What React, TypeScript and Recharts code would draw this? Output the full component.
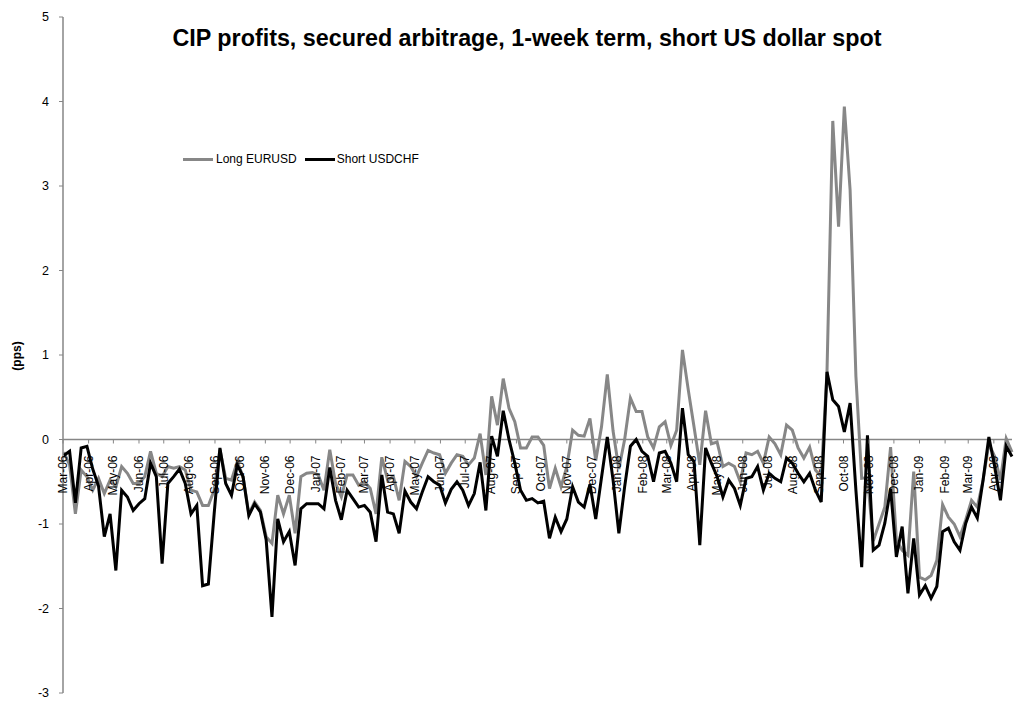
import React from "react";
import { LineChart, Line, XAxis, YAxis, ReferenceLine, Legend } from "recharts";

// weekly observations, first one in early March 2006
const longEURUSD = [
  -0.15, -0.3, -0.88, -0.36, -0.44, -0.6, -0.46, -0.64, -0.48, -0.56,
  -0.32, -0.4, -0.52, -0.52, -0.44, -0.14, -0.4, -0.44, -0.32, -0.34,
  -0.32, -0.36, -0.6, -0.62, -0.78, -0.78, -0.6, -0.12, -0.46, -0.48,
  -0.26, -0.44, -0.88, -0.74, -0.84, -1.15, -1.23, -0.66, -0.88, -0.66,
  -1.11, -0.44, -0.4, -0.39, -0.42, -0.6, -0.12, -0.52, -0.68, -0.42,
  -0.42, -0.54, -0.5, -0.58, -0.88, -0.21, -0.48, -0.44, -0.72, -0.26,
  -0.32, -0.44, -0.28, -0.13, -0.16, -0.18, -0.4, -0.28, -0.18, -0.2,
  -0.3, -0.22, 0.07, -0.42, 0.51, 0.17, 0.72, 0.37, 0.21, -0.1,
  -0.1, 0.03, 0.03, -0.07, -0.58, -0.34, -0.56, -0.32, 0.11, 0.05,
  0.04, 0.25, -0.25, 0.15, 0.77, 0.1, -0.35, 0.0, 0.49, 0.33,
  0.33, 0.03, -0.1, 0.15, 0.21, -0.07, 0.11, 1.06, 0.59, 0.15,
  -0.3, 0.34, -0.05, -0.03, -0.32, -0.28, -0.32, -0.5, -0.16, -0.18,
  -0.14, -0.28, 0.03, -0.05, -0.18, 0.17, 0.11, -0.1, -0.22, -0.09,
  -0.36, -0.44, 0.8, 3.77, 2.52, 3.94, 2.95, 0.75, -0.46, -0.45,
  -1.2, -1.0, -0.8, -0.09, -1.19, -1.31, -1.37, -0.38, -1.63, -1.66,
  -1.61, -1.43, -0.77, -0.92, -1.0, -1.15, -0.95, -0.72, -0.8, -0.48,
  -0.05, -0.2, -0.48, 0.01, -0.15,
];

const shortUSDCHF = [
  -0.19, -0.14, -0.75, -0.1, -0.08, -0.35, -0.55, -1.15, -0.88, -1.55,
  -0.6, -0.68, -0.84, -0.76, -0.7, -0.28, -0.44, -1.47, -0.52, -0.44,
  -0.35, -0.52, -0.88, -0.78, -1.73, -1.71, -0.88, -0.1, -0.52, -0.66,
  -0.3, -0.44, -0.9, -0.76, -0.86, -1.19, -2.1, -0.94, -1.21, -1.09,
  -1.49, -0.82, -0.76, -0.76, -0.76, -0.82, -0.33, -0.72, -0.95, -0.6,
  -0.7, -0.8, -0.78, -0.86, -1.21, -0.42, -0.86, -0.88, -1.11, -0.61,
  -0.74, -0.82, -0.62, -0.44, -0.5, -0.54, -0.75, -0.59, -0.5, -0.6,
  -0.78, -0.64, -0.27, -0.84, 0.04, -0.2, 0.34, 0.0, -0.28, -0.6,
  -0.72, -0.7, -0.75, -0.73, -1.17, -0.92, -1.09, -0.94, -0.56, -0.74,
  -0.8, -0.53, -0.94, -0.45, 0.03, -0.48, -1.11, -0.56, -0.08, 0.0,
  -0.14, -0.2, -0.5, -0.16, -0.14, -0.28, -0.5, 0.37, -0.18, -0.26,
  -1.25, -0.1, -0.28, -0.44, -0.68, -0.48, -0.58, -0.78, -0.46, -0.44,
  -0.32, -0.6, -0.4, -0.46, -0.5, -0.22, -0.28, -0.4, -0.5, -0.4,
  -0.6, -0.74, 0.8, 0.47, 0.39, 0.09, 0.43, -0.6, -1.51, 0.05,
  -1.31, -1.25, -0.99, -0.58, -1.39, -1.03, -1.82, -1.17, -1.84, -1.73,
  -1.88, -1.74, -1.09, -1.05, -1.21, -1.31, -0.99, -0.8, -0.93, -0.48,
  0.03, -0.32, -0.72, -0.08, -0.2,
];

const monthLabels = [
  "Mar-06", "Apr-06", "May-06", "Jun-06", "Jul-06", "Aug-06", "Sep-06", "Oct-06", "Nov-06", "Dec-06",
  "Jan-07", "Feb-07", "Mar-07", "Apr-07", "May-07", "Jun-07", "Jul-07", "Aug-07", "Sep-07", "Oct-07",
  "Nov-07", "Dec-07", "Jan-08", "Feb-08", "Mar-08", "Apr-08", "May-08", "Jun-08", "Jul-08", "Aug-08",
  "Sep-08", "Oct-08", "Nov-08", "Dec-08", "Jan-09", "Feb-09", "Mar-09", "Apr-09",
];

const yTicks = [-3, -2, -1, 0, 1, 2, 3, 4, 5];

const W = 1017;
const H = 702;
const TOP = 17;
const BOTTOM = 9;
const LEFT = 63;
const RIGHT = 5;
const Y_MIN = -3;
const Y_MAX = 5;
const ZERO_Y = TOP + ((Y_MAX - 0) / (Y_MAX - Y_MIN)) * (H - TOP - BOTTOM);
const X_MAX = 1148;

const FONT = "'Liberation Sans', Arial, sans-serif";
const GREY = "#878787";
const AXIS = "#868686";

const DAY = 24 * 3600 * 1000;
const origin = Date.UTC(2006, 2, 1);
const monthTicks = monthLabels.map((_, k) => Math.round((Date.UTC(2006, 2 + k, 1) - origin) / DAY));
const tickLabel: Record<number, string> = {};
monthTicks.forEach((d, k) => (tickLabel[d] = monthLabels[k]));

const data = longEURUSD.map((v, i) => ({
  day: 7 * i + 1,
  eur: v,
  chf: shortUSDCHF[i],
}));

// month labels hang from the zero line, like the Excel original
const MonthTick = (props: any) => {
  const { x, payload } = props;
  return (
    <g transform={`translate(${x},${ZERO_Y})`}>
      <line x1={0} y1={0} x2={0} y2={4} stroke={AXIS} strokeWidth={1} />
      <text
        transform="rotate(-90)"
        x={-16}
        y={4}
        textAnchor="end"
        fontSize={12}
        fontFamily={FONT}
        fill="#000"
      >
        {tickLabel[payload.value]}
      </text>
    </g>
  );
};

const LegendBox = () => (
  <div style={{ display: "flex", alignItems: "center", fontFamily: FONT, fontSize: 12, color: "#000" }}>
    <span style={{ display: "inline-block", width: 30, height: 3, background: GREY }} />
    <span style={{ marginLeft: 3 }}>Long EURUSD</span>
    <span style={{ display: "inline-block", width: 30, height: 3, background: "#000", marginLeft: 8 }} />
    <span style={{ marginLeft: 2 }}>Short USDCHF</span>
  </div>
);

export default function App() {
  return (
    <div style={{ position: "absolute", left: 0, top: 0, width: W, height: H, background: "#fff" }}>
      <div
        style={{
          position: "absolute",
          left: 527 - 400,
          top: 27,
          width: 800,
          textAlign: "center",
          fontFamily: FONT,
          fontWeight: "bold",
          fontSize: 23.3,
          lineHeight: "23px",
          color: "#000",
          whiteSpace: "nowrap",
          zIndex: 2,
        }}
      >
        CIP profits, secured arbitrage, 1-week term, short US dollar spot
      </div>
      <div
        style={{
          position: "absolute",
          left: 17,
          top: 356,
          transform: "translate(-50%, -50%) rotate(-90deg)",
          fontFamily: FONT,
          fontWeight: "bold",
          fontSize: 12,
          color: "#000",
          whiteSpace: "nowrap",
          zIndex: 2,
        }}
      >
        (pps)
      </div>
      <LineChart
        width={W}
        height={H}
        data={data}
        margin={{ top: TOP, right: RIGHT, bottom: BOTTOM - 1, left: LEFT - 50 }}
      >
        <XAxis
          dataKey="day"
          type="number"
          domain={[0, X_MAX]}
          ticks={monthTicks}
          interval={0}
          height={1}
          axisLine={false}
          tickLine={false}
          tick={<MonthTick />}
        />
        <YAxis
          type="number"
          domain={[Y_MIN, Y_MAX]}
          ticks={yTicks}
          interval={0}
          width={50}
          axisLine={{ stroke: AXIS, strokeWidth: 1.5 }}
          tickLine={{ stroke: AXIS, strokeWidth: 1 }}
          tickSize={4}
          tickMargin={10}
          tick={{ fontSize: 12.5, fontFamily: FONT, fill: "#000" }}
        />
        <ReferenceLine y={0} stroke={AXIS} strokeWidth={1.5} />
        <Legend
          layout="horizontal"
          verticalAlign="middle"
          align="center"
          content={<LegendBox />}
          wrapperStyle={{ position: "absolute", left: 183, top: 152, width: "auto" }}
        />
        <Line
          type="linear"
          dataKey="eur"
          name="Long EURUSD"
          stroke={GREY}
          strokeWidth={3}
          dot={false}
          isAnimationActive={false}
        />
        <Line
          type="linear"
          dataKey="chf"
          name="Short USDCHF"
          stroke="#000"
          strokeWidth={3}
          dot={false}
          isAnimationActive={false}
        />
      </LineChart>
    </div>
  );
}
